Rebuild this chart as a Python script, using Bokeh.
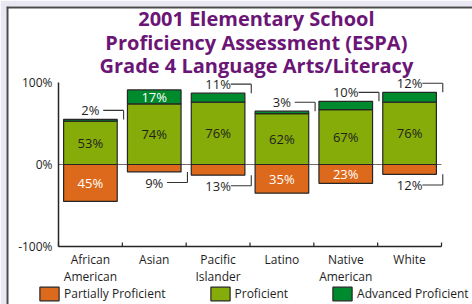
from bokeh.plotting import figure
from bokeh.models import (Range1d, FixedTicker, ColumnDataSource, LabelSet, Label, Legend,
                          LegendItem, Span)
from bokeh.core.properties import value
from bokeh.embed import file_html
from bokeh.resources import INLINE

# ---------------- data ----------------
categories = ["African American", "Asian", "Pacific Islander", "Latino", "Native American", "White"]
tick_labels = ["African\nAmerican", "Asian", "Pacific\nIslander", "Latino", "Native\nAmerican", "White"]
partially = [45, 9, 13, 35, 23, 12]
proficient = [53, 74, 76, 62, 67, 76]
advanced = [2, 17, 11, 3, 10, 12]
y_ticks = [-100, 0, 100]
y_tick_labels = ["-100%", "0%", "100%"]
series_names = ["Partially Proficient", "Proficient", "Advanced Proficient"]
title_lines = ["2001 Elementary School", "Proficiency Assessment (ESPA)",
               "Grade 4 Language Arts/Literacy"]

# ---------------- styles / layout ----------------
ORANGE = "#DD6A1C"
LGREEN = "#86AC0A"
DGREEN = "#008A2E"
PURPLE = "#6B1577"
EDGE = "#262626"
TEXT = "#1e1e1e"
PAGE_BG = "#E9E7F1"
FONT = "Open Sans"

W, H = 472, 304
PAD = 6                 # lavender strip at left / top
AXIS_X_PX = 58          # y-axis position from the figure's left edge
PLOT_W_PX = 383         # width covered by the categories
ZERO_PX = 164           # zero line from the figure's top edge
PX_PER_PCT = 0.82

n = len(categories)
xs = [i + 0.5 for i in range(n)]
BAR_W = 0.84
unit = PLOT_W_PX / n
x_start = (PAD - AXIS_X_PX) / unit
x_end = (W - AXIS_X_PX) / unit
y_end = (ZERO_PX - PAD) / PX_PER_PCT
y_start = (ZERO_PX - H) / PX_PER_PCT

p = figure(width=W, height=H, output_backend="svg", toolbar_location=None,
           x_range=Range1d(x_start, x_end), y_range=Range1d(y_start, y_end),
           min_border=0, min_border_left=PAD, min_border_top=PAD)
p.outline_line_color = None
p.grid.visible = False
p.background_fill_color = "white"
p.border_fill_color = PAGE_BG

# dark edge of the white panel (left and top)
p.add_layout(Span(location=x_start, dimension="height", line_color="#4a4a4a", line_width=4))
p.add_layout(Span(location=y_end, dimension="width", line_color="#4a4a4a", line_width=4))

# title (three centred lines)
title_y = [177.5, 149, 120.5]
for line, ty in zip(title_lines, title_y):
    p.add_layout(Label(x=n / 2 + 0.1, y=ty, text=line, text_align="center",
                       text_baseline="middle", text_font=FONT, text_font_size="20px",
                       text_font_style="bold", text_color=PURPLE))

# y axis
p.yaxis.fixed_location = 0
p.yaxis.bounds = (y_ticks[0], y_ticks[-1])
p.yaxis.ticker = FixedTicker(ticks=y_ticks)
p.yaxis.major_label_overrides = dict(zip(y_ticks, y_tick_labels))
p.yaxis.major_tick_in = 0
p.yaxis.major_tick_out = 0
p.yaxis.minor_tick_in = 0
p.yaxis.minor_tick_out = 0
p.yaxis.axis_line_color = EDGE
p.yaxis.axis_line_width = 1.5
p.yaxis.major_label_standoff = 6
p.yaxis.major_label_text_font = FONT
p.yaxis.major_label_text_font_size = "12px"
p.yaxis.major_label_text_color = TEXT

# x axis
p.xaxis.fixed_location = y_ticks[0]
p.xaxis.bounds = (0, n)
p.xaxis.ticker = FixedTicker(ticks=xs)
p.xaxis.major_label_overrides = dict(zip(xs, tick_labels))
p.xaxis.major_tick_in = 0
p.xaxis.major_tick_out = 0
p.xaxis.minor_tick_in = 0
p.xaxis.minor_tick_out = 0
p.xaxis.axis_line_color = EDGE
p.xaxis.axis_line_width = 1.5
p.xaxis.major_label_standoff = 4
p.xaxis.major_label_text_font = FONT
p.xaxis.major_label_text_font_size = "12px"
p.xaxis.major_label_text_color = TEXT
p.xaxis.major_label_text_line_height = 1.0

# category boundary ticks (inside, pointing up)
bounds = list(range(n + 1))
p.segment(x0=bounds, x1=bounds, y0=[-100] * len(bounds), y1=[-95] * len(bounds),
          line_color=EDGE, line_width=1.2)

# zero line across the category area
p.segment(x0=[0], x1=[n], y0=[0], y1=[0], line_color="#6e6e6e", line_width=1.2)

# bars
src = ColumnDataSource(dict(
    x=xs,
    neg=[-v for v in partially],
    zero=[0] * n,
    prof=proficient,
    top=[a + b for a, b in zip(proficient, advanced)],
))
r1 = p.vbar(x="x", width=BAR_W, top="zero", bottom="neg", source=src,
            fill_color=ORANGE, line_color=EDGE, line_width=1.2)
r2 = p.vbar(x="x", width=BAR_W, top="prof", bottom="zero", source=src,
            fill_color=LGREEN, line_color=EDGE, line_width=1.2)
r3 = p.vbar(x="x", width=BAR_W, top="top", bottom="prof", source=src,
            fill_color=DGREEN, line_color=EDGE, line_width=1.2)

# value labels
in_x, in_y, in_t, in_c = [], [], [], []
out_x, out_y, out_t = [], [], []
hx0, hx1, hy, vx, vy0, vy1 = [], [], [], [], [], []
for i in range(n):
    segs = [
        (partially[i], -partially[i], 0, "white", "bottom"),
        (proficient[i], 0, proficient[i], TEXT, None),
        (advanced[i], proficient[i], proficient[i] + advanced[i], "white", "top"),
    ]
    for v, b, t, col, side in segs:
        if v >= 15:
            in_x.append(xs[i]); in_y.append((b + t) / 2); in_t.append(f"{v}%"); in_c.append(col)
        else:
            if side == "top":
                ly, edge = t + 11, t
            else:
                ly, edge = b - 13, b
            out_x.append(xs[i]); out_y.append(ly); out_t.append(f"{v}%")
            hx0.append(xs[i] + 0.2); hx1.append(xs[i] + 0.52); hy.append(ly)
            vx.append(xs[i] + 0.52); vy0.append(ly); vy1.append(edge)

p.segment(x0=hx0, x1=hx1, y0=hy, y1=hy, line_color="#333333", line_width=1.1)
p.segment(x0=vx, x1=vx, y0=vy0, y1=vy1, line_color="#333333", line_width=1.1)

in_src = ColumnDataSource(dict(x=in_x, y=in_y, t=in_t, c=in_c))
p.add_layout(LabelSet(x="x", y="y", text="t", source=in_src, text_color="c",
                      text_align="center", text_baseline="middle",
                      text_font=value(FONT), text_font_size=value("13px")))
out_src = ColumnDataSource(dict(x=out_x, y=out_y, t=out_t))
p.add_layout(LabelSet(x="x", y="y", text="t", source=out_src, text_color=TEXT,
                      text_align="center", text_baseline="middle",
                      text_font=value(FONT), text_font_size=value("13px")))

legend = Legend(items=[LegendItem(label=series_names[0], renderers=[r1]),
                       LegendItem(label=series_names[1], renderers=[r2]),
                       LegendItem(label=series_names[2], renderers=[r3])],
                orientation="horizontal", location=(31, 2),
                glyph_width=24, glyph_height=17, label_height=17, label_standoff=3,
                spacing=42, padding=0, margin=0, border_line_color=None,
                background_fill_alpha=0, label_text_font=FONT,
                label_text_font_size="12px", label_text_color=TEXT)
p.add_layout(legend, "center")

open("out.html", "w").write(file_html(p, INLINE))
